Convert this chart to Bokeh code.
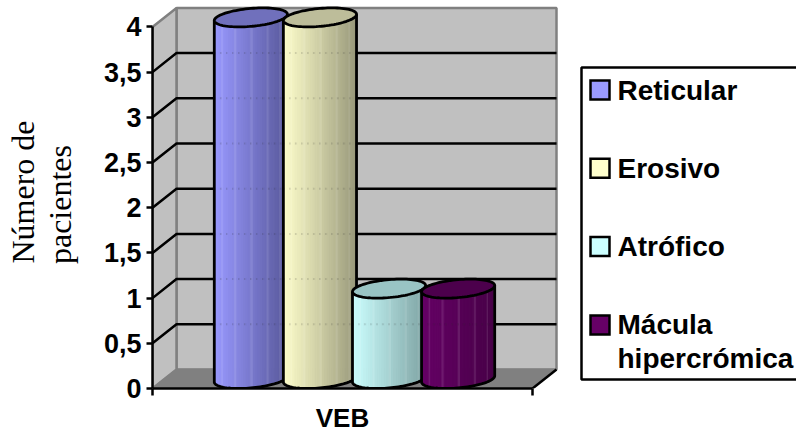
import numpy as np
from bokeh.embed import file_html
from bokeh.models import FixedTicker, LinearAxis, Label, Range1d
from bokeh.plotting import figure
from bokeh.resources import INLINE

# Chart content
group_label = "VEB"
series_names = ["Reticular", "Erosivo", "Atrófico", "Mácula\nhipercrómica"]
series_values = [4, 4, 1, 1]
series_light = ["#9999FF", "#FFFFCC", "#CCFFFF", "#660066"]
series_cap = ["#7070BC", "#BDBD9A", "#99C4C4", "#4C004C"]
series_dark = ["#58589A", "#98987A", "#7EA2A2", "#470047"]
y_ticks = [0, 0.5, 1, 1.5, 2, 2.5, 3, 3.5, 4]
y_tick_labels = ["0", "0,5", "1", "1,5", "2", "2,5", "3", "3,5", "4"]
y_title_lines = ["pacientes", "Número de"]

# Page geometry, in pixels
W, H = 796, 431
AX_LEFT, AX_RIGHT = 152, 532
AX_BOTTOM = 388
PX_PER_UNIT = 90.4
PX_PER_GROUP = AX_RIGHT - AX_LEFT
DEPTH_X = 24 / PX_PER_GROUP
DEPTH_Y = 19 / PX_PER_UNIT
GAP_WIDTH = 1.5


def to_x(px):
    return (px - AX_LEFT) / PX_PER_GROUP


def to_y(py):
    return (AX_BOTTOM - py) / PX_PER_UNIT


p = figure(
    width=W, height=H, output_backend="svg", toolbar_location=None,
    frame_width=W - AX_LEFT, frame_height=AX_BOTTOM,
    x_range=Range1d(0, to_x(W)), y_range=Range1d(0, to_y(0)),
    min_border_left=AX_LEFT, min_border_right=0, min_border_top=0,
    min_border_bottom=0, outline_line_color=None,
    background_fill_color="white", border_fill_color="white",
)
p.grid.visible = False

# Walls and floor of the box
top = y_ticks[-1]
GREY, WALL = "#808080", "#C0C0C0"
p.quad(left=DEPTH_X, right=1 + DEPTH_X, bottom=DEPTH_Y, top=top + DEPTH_Y,
       fill_color=WALL, line_color=GREY, line_width=2.5)
p.patch([0, DEPTH_X, DEPTH_X, 0], [0, DEPTH_Y, top + DEPTH_Y, top],
        fill_color=WALL, line_color=GREY, line_width=2.5)
p.patch([0, 1, 1 + DEPTH_X, DEPTH_X], [0, 0, DEPTH_Y, DEPTH_Y],
        fill_color=GREY, line_color=GREY, line_width=1.5)
p.line([1, 1 + DEPTH_X], [0, DEPTH_Y], line_color="black", line_width=2.5)

# Gridlines run along the back wall and down the side wall
for v in y_ticks[1:-1]:
    p.line([0, DEPTH_X, 1 + DEPTH_X], [v, v + DEPTH_Y, v + DEPTH_Y],
           line_color="black", line_width=2.5)

# Cylinders
n = len(series_values)
bar_w = 1 / (n + GAP_WIDTH)
t_tan = np.arctan2(DEPTH_X / 2, bar_w / 2)


def rgb(hex_colour):
    return np.array([int(hex_colour[i:i + 2], 16) for i in (1, 3, 5)], float)


def ring(cx, value, angles):
    xs = cx + DEPTH_X / 2 + bar_w / 2 * np.cos(angles) + DEPTH_X / 2 * np.sin(angles)
    ys = value + DEPTH_Y / 2 + DEPTH_Y / 2 * np.sin(angles)
    return xs, ys


for i, (v, light, cap, dark) in enumerate(zip(series_values, series_light, series_cap, series_dark)):
    cx = (GAP_WIDTH / 2 + i + 0.5) * bar_w
    # front half of the ring, running from the left tangent to the right tangent
    front = np.linspace(t_tan + np.pi, t_tan + 2 * np.pi, 49)
    bx, by = ring(cx, 0, front)
    tx, ty = ring(cx, v, front)
    c0, c1 = rgb(light), rgb(dark)
    strips_x, strips_y, colours = [], [], []
    for k in range(len(front) - 1):
        strips_x.append([bx[k], bx[k + 1], tx[k + 1], tx[k]])
        strips_y.append([by[k], by[k + 1], ty[k + 1], ty[k]])
        f = (bx[k] - bx[0]) / (bx[-1] - bx[0])
        c = c0 + (c1 - c0) * f
        # the shading falls in narrow bands with a thin lighter rib every so often
        if k % 7 == 3:
            c = c + (255 - c) * 0.10
        colours.append("#%02x%02x%02x" % tuple(int(round(q)) for q in c))
    p.patches(strips_x, strips_y, fill_color=colours, line_color=colours, line_width=1)
    # gridlines show faintly through the body
    for g in y_ticks[1:-1]:
        if g + DEPTH_Y < v:
            p.line([bx[0], bx[-1]], [g + DEPTH_Y, g + DEPTH_Y], line_color="#303030",
                   line_alpha=0.25, line_width=2, line_dash="1 5")
    # outline of the side and bottom
    p.line(np.r_[tx[0], bx, tx[-1]], np.r_[ty[0], by, ty[-1]],
           line_color="black", line_width=2.8, line_join="round")
    # lid
    lx, ly = ring(cx, v, np.linspace(0, 2 * np.pi, 90))
    p.patch(lx, ly, fill_color=cap, line_color="black", line_width=2.8)

# Axes
yax = p.yaxis[0]
yax.ticker = FixedTicker(ticks=y_ticks)
yax.major_label_overrides = dict(zip(y_ticks, y_tick_labels))
yax.bounds = (y_ticks[0], y_ticks[-1])
yax.axis_line_color = "black"
yax.axis_line_width = 2.5
yax.major_tick_line_color = "black"
yax.major_tick_line_width = 2.5
yax.major_tick_in = 0
yax.major_tick_out = 6
yax.minor_tick_line_color = None
yax.major_label_standoff = 5
yax.major_label_text_font = "Liberation Sans"
yax.major_label_text_font_style = "bold"
yax.major_label_text_font_size = "27px"
yax.major_label_text_color = "black"

xax = p.xaxis[0]
xax.ticker = FixedTicker(ticks=[0, 1])
xax.major_label_overrides = {0: "", 1: ""}
xax.major_label_standoff = 0
xax.bounds = (0, 1)
xax.axis_line_color = "black"
xax.axis_line_width = 2.5
xax.major_tick_line_color = "black"
xax.major_tick_line_width = 2.5
xax.major_tick_in = 0
xax.major_tick_out = 7
xax.minor_tick_line_color = None

# The group name sits on a second, rule-less axis, centred on the group
group_axis = LinearAxis(ticker=FixedTicker(ticks=[0.5]), major_label_overrides={0.5: group_label},
                        axis_line_color=None, major_tick_line_color=None, minor_tick_line_color=None,
                        major_tick_in=0, major_tick_out=0, minor_tick_in=0, minor_tick_out=0,
                        major_label_standoff=7, major_label_text_font="Liberation Sans",
                        major_label_text_font_style="bold", major_label_text_font_size="26px",
                        major_label_text_color="black")
p.add_layout(group_axis, "below")

# Two-line value-axis title: each line is a vertical label on its own rule-less axis
title_centres = [204, 191.5]
title_standoffs = [22, -2]
for line, centre, standoff in zip(y_title_lines, title_centres, title_standoffs):
    at = round(to_y(centre), 3)
    ax = LinearAxis(ticker=FixedTicker(ticks=[at]), major_label_overrides={at: line},
                    axis_line_color=None, major_tick_line_color=None, minor_tick_line_color=None,
                    major_tick_in=0, major_tick_out=0, minor_tick_in=0, minor_tick_out=0,
                    major_label_orientation="vertical", major_label_standoff=standoff,
                    major_label_text_font="Liberation Serif", major_label_text_font_style="normal",
                    major_label_text_font_size="32px", major_label_text_color="black")
    p.add_layout(ax, "left")

# Legend panel
p.quad(left=to_x(581), right=to_x(W + 6), top=to_y(67), bottom=to_y(379),
       fill_color="white", line_color="black", line_width=2.5)
for i, (name, colour) in enumerate(zip(series_names, series_light)):
    sw_top = 80 + 78.3 * i
    p.quad(left=to_x(590), right=to_x(609), top=to_y(sw_top), bottom=to_y(sw_top + 19),
           fill_color=colour, line_color="black", line_width=2.5, line_join="miter")
    for j, line in enumerate(name.split("\n")):
        p.add_layout(Label(x=to_x(617), y=to_y(sw_top + 9.5 + 34 * j), text=line,
                           text_align="left", text_baseline="middle",
                           text_font="Liberation Sans", text_font_style="bold",
                           text_color="black", text_font_size="28px"))

open("out.html", "w").write(file_html(p, INLINE))
